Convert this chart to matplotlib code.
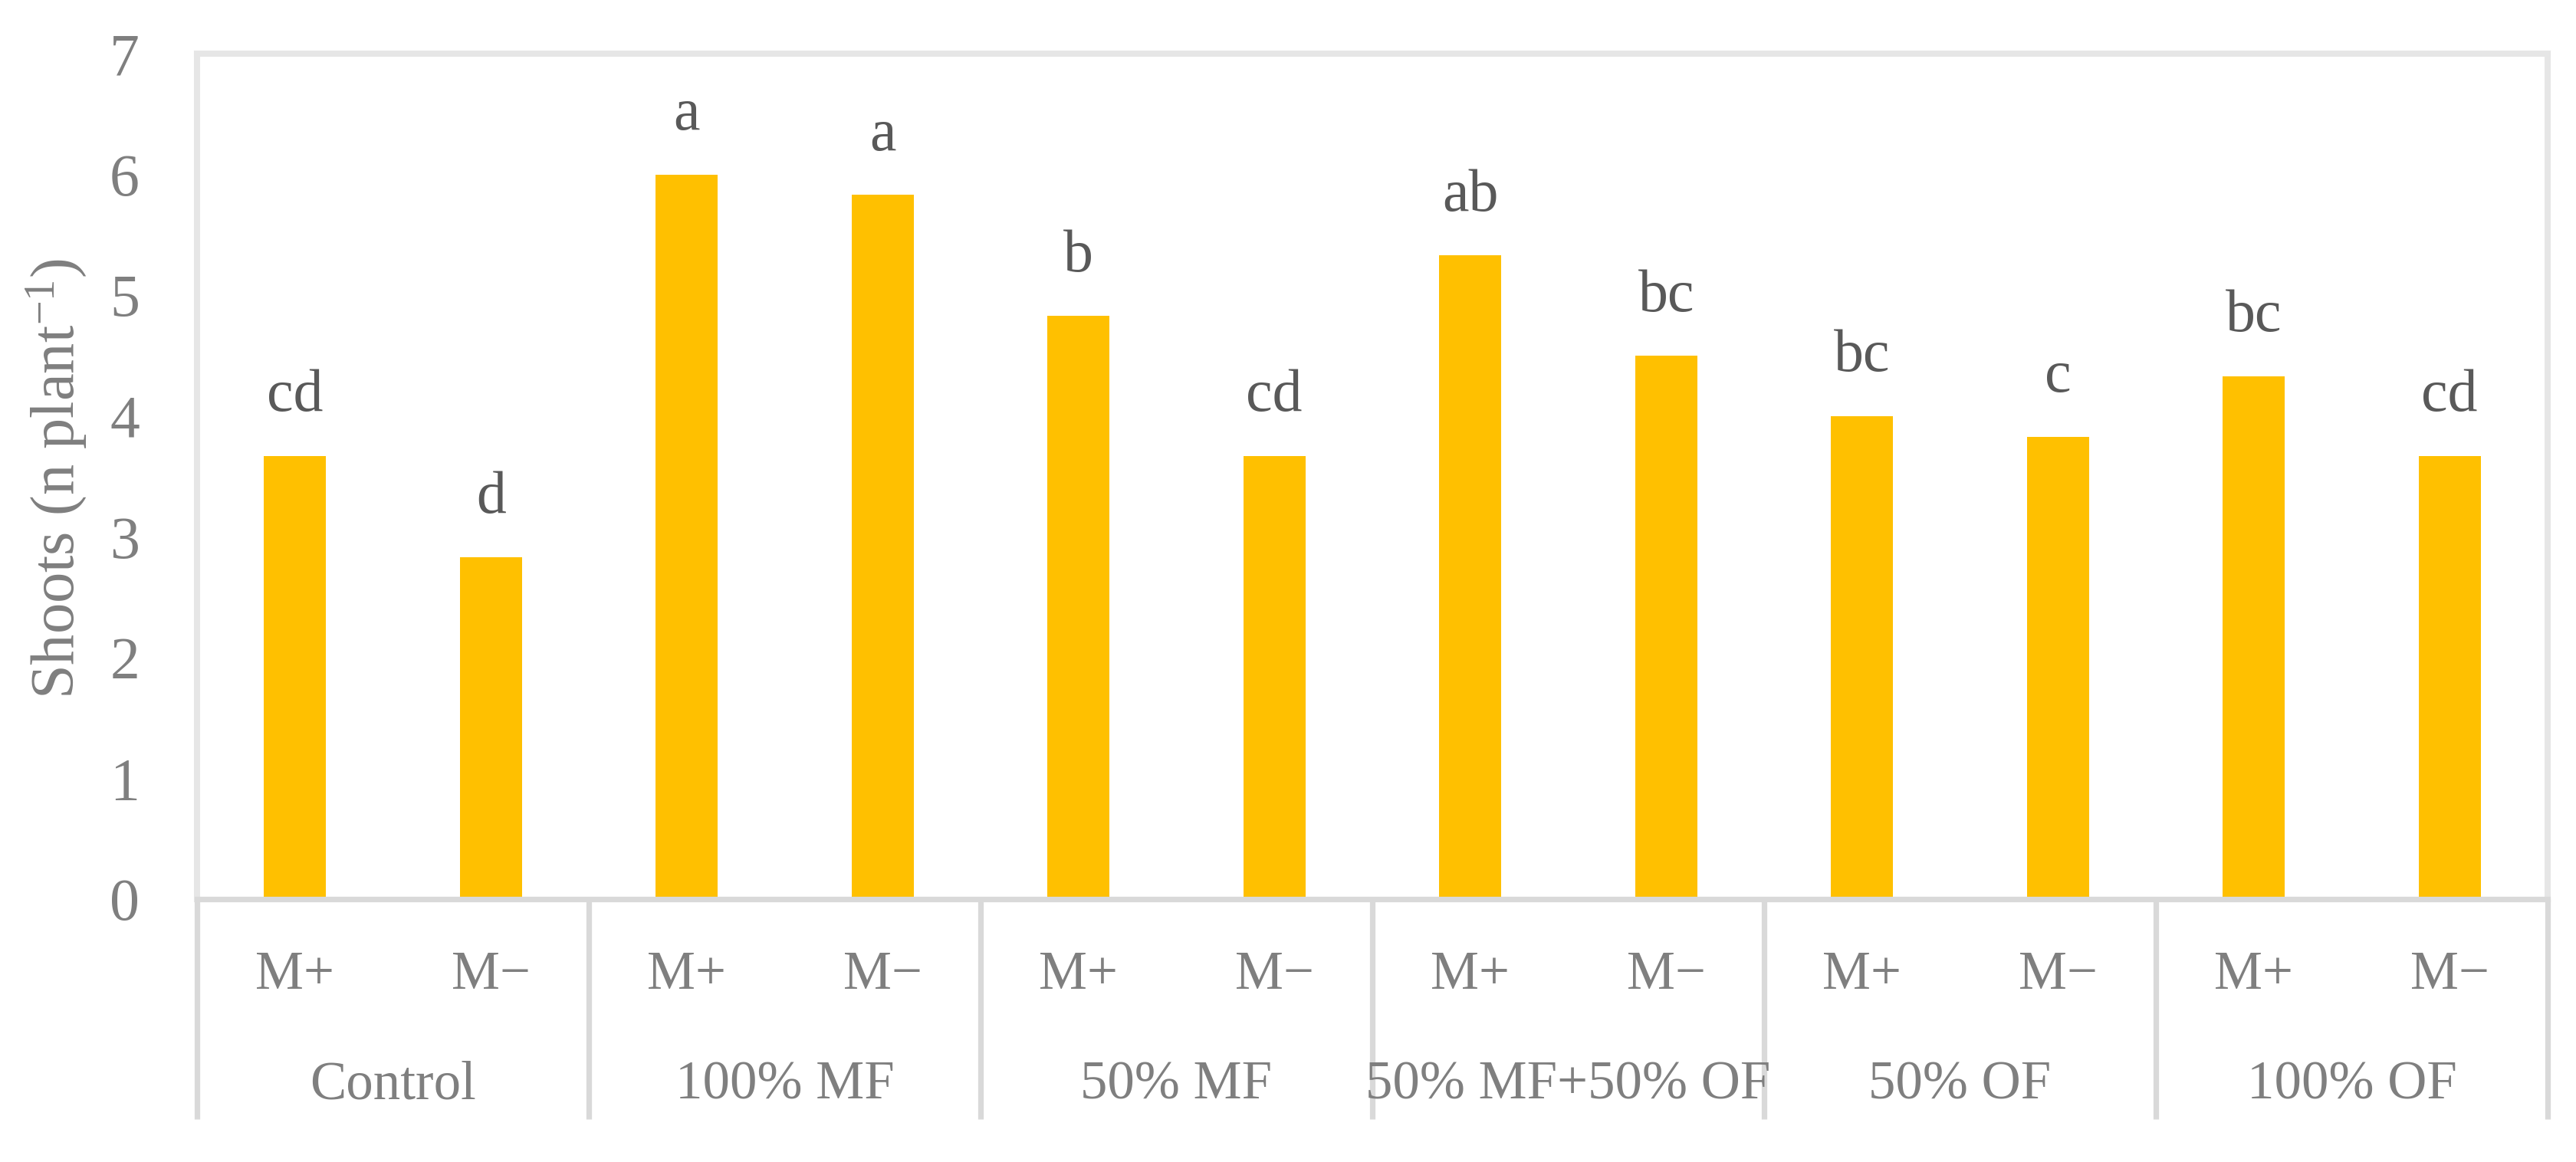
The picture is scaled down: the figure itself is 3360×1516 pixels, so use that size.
import numpy as np
import matplotlib
matplotlib.use('Agg')
import matplotlib.pyplot as plt
import matplotlib.transforms as mtransforms

plt.rcParams['font.family'] = ['Liberation Serif', 'DejaVu Serif']
plt.rcParams['mathtext.fontset'] = 'custom'
plt.rcParams['mathtext.rm'] = 'Liberation Serif'
plt.rcParams['mathtext.it'] = 'Liberation Serif:italic'

# data
groups = ['Control', '100% MF', '50% MF', '50% MF+50% OF', '50% OF', '100% OF']
myc_levels = ['M+', 'M\u2212']
shoots_mplus = [3.67, 6.0, 4.83, 5.33, 4.0, 4.33]
shoots_mminus = [2.83, 5.83, 3.67, 4.5, 3.83, 3.67]
letters_mplus = ['cd', 'a', 'b', 'ab', 'bc', 'bc']
letters_mminus = ['d', 'a', 'cd', 'bc', 'c', 'cd']
yticks = [0, 1, 2, 3, 4, 5, 6, 7]

bar_color = '#FFC000'
label_grey = '#7F7F7F'
letter_grey = '#595959'
axis_grey = '#D9D9D9'
frame_grey = '#E6E6E6'

# interleave M+ / M- per treatment
values = []
letters = []
ticklabs = []
for i in range(len(groups)):
    values += [shoots_mplus[i], shoots_mminus[i]]
    letters += [letters_mplus[i], letters_mminus[i]]
    ticklabs += myc_levels
x = np.arange(len(values))

W, H = 3360, 1516
fig = plt.figure(figsize=(W / 200, H / 200), dpi=200)
ax_l, ax_r, ax_t, ax_b = 257, 3323, 70, 1173
ax = fig.add_axes([ax_l / W, 1 - ax_b / H, (ax_r - ax_l) / W, (ax_b - ax_t) / H])

ax.bar(x, values, width=0.318, color=bar_color, zorder=2)
ax.set_xlim(-0.5, len(values) - 0.5)
ax.set_ylim(0, 7)

for xi, v, lab in zip(x, values, letters):
    ax.annotate(lab, (xi, v), xytext=(0, 21), textcoords='offset points',
                ha='center', va='baseline', fontsize=28, color=letter_grey)

# frame
for side in ['top', 'left', 'right']:
    ax.spines[side].set_color(frame_grey)
    ax.spines[side].set_linewidth(2.9)
ax.spines['bottom'].set_color(axis_grey)
ax.spines['bottom'].set_linewidth(2.6)

ax.set_yticks(yticks)
ax.set_yticklabels([str(t) for t in yticks])
ax.tick_params(axis='y', length=0, pad=27, labelsize=28, labelcolor=label_grey)
ax.set_xticks([])

# multi-level category axis
trans = mtransforms.blended_transform_factory(ax.transData, ax.transAxes)
h = ax_b - ax_t
y_sub = -(1290 - ax_b) / h
y_grp = -(1433 - ax_b) / h
y_end = -(1460 - ax_b) / h
for xi, lab in zip(x, ticklabs):
    ax.text(xi, y_sub, lab, transform=trans, ha='center', va='baseline',
            fontsize=25.5, color=label_grey)
for i, g in enumerate(groups):
    ax.text(2 * i + 0.5, y_grp, g, transform=trans, ha='center', va='baseline',
            fontsize=25.5, color=label_grey)
for b in np.arange(-0.5, len(values), 2):
    ax.plot([b, b], [0, y_end], transform=trans, color=axis_grey, lw=2.6,
            clip_on=False, solid_capstyle='butt')

fig.text(74 / W, 1 - 624 / H, 'Shoots (n plant$^{\u22121}$)', rotation=90,
         ha='center', va='center', fontsize=29, color=label_grey)

fig.savefig('out.png', dpi=200, facecolor='white')
